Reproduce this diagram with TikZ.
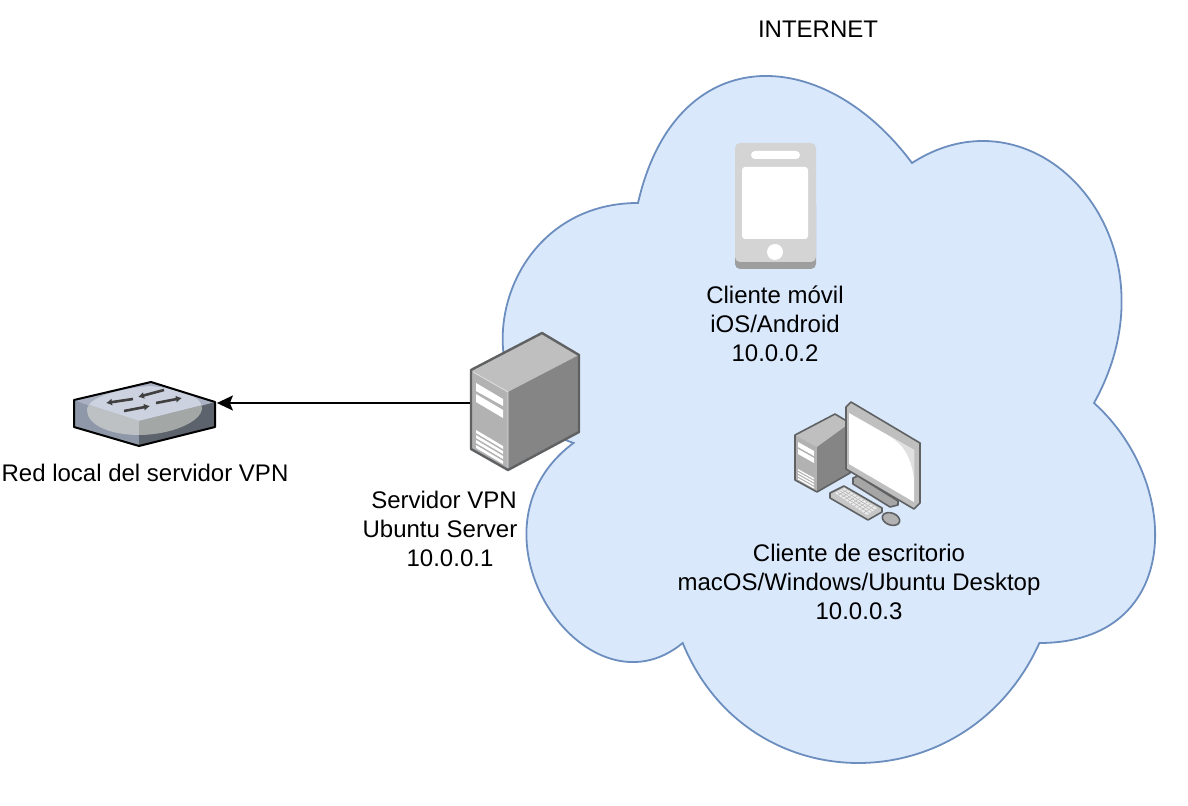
\documentclass[tikz,border=0pt]{standalone}
\usepackage{fontspec}
\setmainfont{Liberation Sans}
\usetikzlibrary{arrows.meta}
\definecolor{cloudfill}{HTML}{DAE8FC}
\definecolor{clouddraw}{HTML}{6C8EBF}
\definecolor{icoline}{HTML}{5F6163}
\definecolor{swtop}{HTML}{AAB1C2}
\definecolor{swleft}{HTML}{8F98A8}
\definecolor{swright}{HTML}{5C636C}
\definecolor{blobtop}{HTML}{CDD2E0}
\definecolor{blobleft}{HTML}{BDC1C4}
\definecolor{blobright}{HTML}{A3A7A6}
\tikzset{
    label/.style={align=center,inner sep=0pt,font=\fontsize{12}{14.6}\selectfont},
    icon/.style={inner sep=0pt,minimum width=#1},
    edgeline/.style={icoline,line width=1pt,line join=round}
}
\begin{document}
\begin{tikzpicture}[x=0.5pt,y=-0.5pt]
    \useasboundingbox (0,0) rectangle (1188,806);
    % cloud
    \draw[fill=cloudfill,draw=clouddraw,line width=0.9pt]
        (638,203) .. controls (491,203) and (455,403) .. (573.5,443)
        .. controls (455,531) and (586,723) .. (682.7,643)
        .. controls (748,803) and (967,803) .. (1039.4,643)
        .. controls (1183,643) and (1183,483) .. (1094,403)
        .. controls (1183,243) and (1039,81) .. (912,163)
        .. controls (821,41) and (675,41) .. (638,203) -- cycle;
    % nodes
    \node[icon=73,minimum height=30] (switch) at (143.5,403) {};
    \node[icon=55,minimum height=69] (server) at (525.5,403) {};
    \node[icon=41,minimum height=63] (phone) at (775.5,206) {};
    \node[icon=63,minimum height=60] (desktop) at (858,464) {};
    \node[label] (internet) at (818,29) {INTERNET};
    \node[label] (switchtext) at (145,473) {Red local del servidor VPN};
    \node[label] (servertext) at (444,529) {Servidor VPN\\Ubuntu Server\hspace*{4pt}\mbox{}\\\hspace*{6pt}10.0.0.1};
    \node[label] (phonetext) at (775,324) {Cliente móvil\\iOS/Android\\10.0.0.2};
    \node[label] (desktoptext) at (859,582) {Cliente de escritorio\\macOS/Windows/Ubuntu Desktop\\10.0.0.3};
    % switch icon
    \fill[swtop] (74,400) -- (151,382) -- (215,402) -- (139,423) -- cycle;
    \fill[swleft] (74,400) -- (139,423) -- (139,446) -- (74,427) -- cycle;
    \fill[swright] (139,423) -- (215,402) -- (215,427) -- (139,446) -- cycle;
    \begin{scope}
        \clip (87,410) .. controls (87,396) and (125,388) .. (150,386)
            .. controls (175,388) and (202,395) .. (202,408)
            .. controls (202,422) and (170,435) .. (139,435)
            .. controls (110,435) and (87,425) .. (87,410) -- cycle;
        \fill[blobtop] (74,400) -- (151,380) -- (215,402) -- (139,421) -- cycle;
        \fill[blobleft] (74,400) -- (139,421) -- (139,446) -- (74,446) -- cycle;
        \fill[blobright] (139,421) -- (215,402) -- (215,446) -- (139,446) -- cycle;
    \end{scope}
    \foreach \xa/\ya/\xb/\yb in {133/399/106/403,164/390/138/397,124/411/150/406,156/403/182/398} {
        \draw[-{Latex[length=3pt,width=3.5pt]},black!75,line width=1.3pt] (\xa,\ya) -- (\xb,\yb);
    }
    \draw[black,line width=1pt,line join=round] (74,400) -- (151,382) -- (215,402) -- (215,427) -- (139,446) -- (74,427) -- cycle;
    % server icon
    \fill[black!25] (471,370) -- (542,333) -- (579,355) -- (508,392) -- cycle;
    \fill[black!30] (471,370) -- (508,392) -- (508,470) -- (471,449) -- cycle;
    \fill[black!48] (508,392) -- (579,355) -- (579,432) -- (508,470) -- cycle;
    \draw[black!12,line width=0.4pt] (473,372) -- (508,392) -- (508,468);
    \fill[white] (476,383) -- (503,399) -- (503,406) -- (476,391) -- cycle;
    \fill[white] (476,394) -- (503,410) -- (503,418) -- (476,402) -- cycle;
    \foreach \dy in {0,5,10,15} {
        \fill[white] (476,430+\dy) -- (503,446+\dy) -- (503,449+\dy) -- (476,433+\dy) -- cycle;
    }
    \draw[edgeline,line width=1.2pt] (471,370) -- (542,333) -- (579,355) -- (579,432) -- (508,470) -- (471,449) -- cycle;
    % phone icon
    \fill[black!38,rounded corners=2.5] (735,200) rectangle (816,269);
    \fill[black!17,rounded corners=2.5] (735,143) rectangle (816,262);
    \fill[white,rounded corners=2] (751,151) rectangle (800,159);
    \fill[white,rounded corners=1.5] (742,167) rectangle (808,239);
    \fill[white] (775,252) circle (8);
    % desktop icon
    \fill[black!25] (795,435) -- (835,414) -- (850,423) -- (817,447) -- cycle;
    \fill[black!30] (795,435) -- (817,447) -- (817,492) -- (795,480) -- cycle;
    \fill[black!48] (817,447) -- (850,423) -- (850,473) -- (817,492) -- cycle;
    \fill[white] (798,442) -- (814,451) -- (814,456) -- (798,447) -- cycle;
    \fill[white] (798,449) -- (814,458) -- (814,463) -- (798,454) -- cycle;
    \foreach \dy in {0,3,6,9} {
        \fill[white] (798,469+\dy) -- (814,478+\dy) -- (814,479.5+\dy) -- (798,470.5+\dy) -- cycle;
    }
    \draw[edgeline,line width=0.8pt] (795,435) -- (835,414) -- (850,423) -- (850,473) -- (817,492) -- (795,480) -- cycle;
    \draw[edgeline,line width=0.8pt,fill=black!35] (853,478) -- (858,476) -- (898,501) -- (898,505) -- (890,507) -- (853,484) -- cycle;
    \draw[edgeline,line width=0.8pt,fill=black!25] (846,407) -- (851,402) -- (920,443) -- (920,503) -- (914,509) -- (846,469) -- cycle;
    \fill[white] (849,413) -- (914,450) -- (914,502) -- (849,464) -- cycle;
    \fill[black!12] (889,436) -- (914,450) -- (914,480) .. controls (912,460) and (905,445) .. (889,436) -- cycle;
    \draw[edgeline,line width=0.8pt,fill=black!22] (830,493) -- (844,486) -- (882,508) -- (882,512) -- (868,520) -- (830,498) -- cycle;
    \fill[black!8] (835,493) -- (844,488) -- (877,508) -- (867,515) -- cycle;
    \foreach \i in {1,...,3} {
        \draw[black!30,line width=0.25pt] (835+2.25*\i,493-1.25*\i) -- (867+2.5*\i,515-1.75*\i);
    }
    \foreach \i in {1,...,9} {
        \draw[black!30,line width=0.25pt] (835+3.2*\i,493+2.2*\i) -- (844+3.3*\i,488+2*\i);
    }
    \draw[edgeline,line width=0.8pt,fill=black!30,rotate around={-20:(891,519)}] (891,519) ellipse (9 and 6);
    % connector
    \draw[-{Stealth[length=8pt,width=7.5pt,inset=1.5pt]},black,line width=0.75pt] (server.west) -- (switch.east);
\end{tikzpicture}
\end{document}
